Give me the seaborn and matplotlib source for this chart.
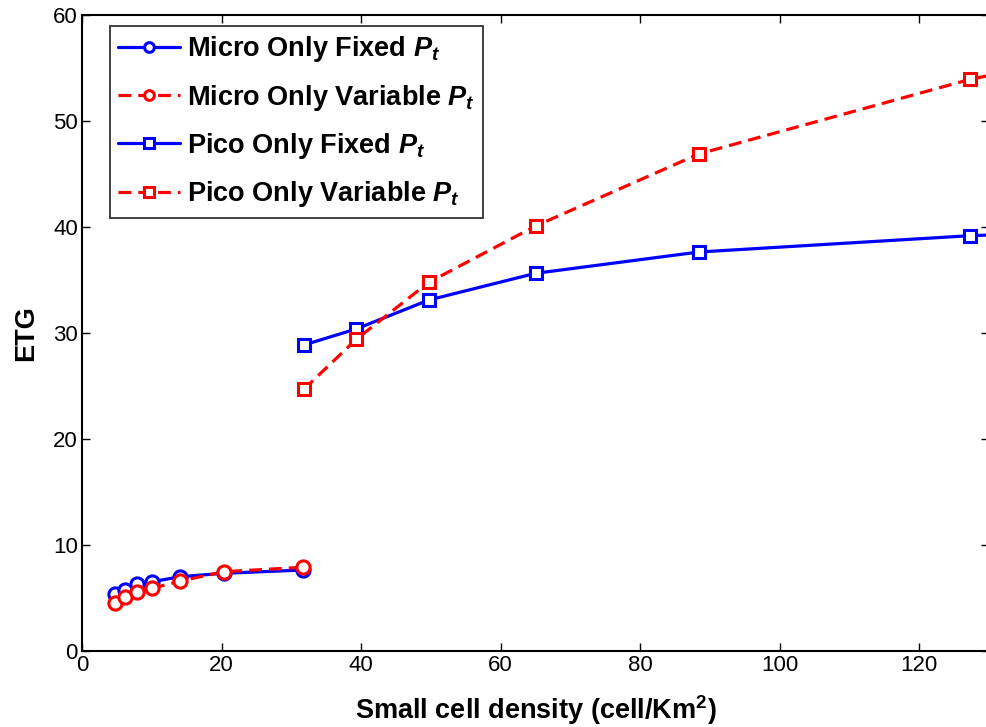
import matplotlib
matplotlib.use("Agg")
import matplotlib.pyplot as plt
import seaborn as sns
import pandas as pd

# ---- data ----
micro_density = [4.8, 6.1, 7.9, 10.1, 14.1, 20.3, 31.7]
micro_fixed = [5.35, 5.75, 6.29, 6.54, 7.01, 7.33, 7.64]
micro_variable = [4.56, 5.07, 5.54, 5.92, 6.60, 7.48, 7.90]

pico_density = [31.8, 39.3, 49.7, 65.0, 88.4, 127.3, 198.9]
pico_fixed = [28.87, 30.38, 33.11, 35.63, 37.64, 39.18, 40.8]
pico_variable = [24.69, 29.40, 34.78, 40.09, 46.89, 53.93, 63.5]

labels = ["Micro Only Fixed $P_t$", "Micro Only Variable $P_t$",
          "Pico Only Fixed $P_t$", "Pico Only Variable $P_t$"]
x_ticks = [0, 20, 40, 60, 80, 100, 120]
y_ticks = [0, 10, 20, 30, 40, 50, 60]

sns.set_theme(style="white")
plt.rcParams["font.family"] = ["Liberation Sans", "DejaVu Sans"]
plt.rcParams["mathtext.fontset"] = "custom"
plt.rcParams["mathtext.it"] = "Liberation Sans:italic:bold"
plt.rcParams["mathtext.rm"] = "Liberation Sans:bold"
plt.rcParams["mathtext.bf"] = "Liberation Sans:bold"
plt.rcParams["text.color"] = "black"
plt.rcParams["axes.labelcolor"] = "black"
plt.rcParams["xtick.color"] = "black"
plt.rcParams["ytick.color"] = "black"

fig = plt.figure(figsize=(9.87, 7.27), dpi=100)
ax = fig.add_axes([82 / 987, 76 / 727, 907 / 987, 636 / 727])

series = [
    (micro_density, micro_fixed, labels[0], "#0000ff", "-", "o", 9.5),
    (micro_density, micro_variable, labels[1], "#ff0000", "--", "o", 9.5),
    (pico_density, pico_fixed, labels[2], "#0000ff", "-", "s", 8),
    (pico_density, pico_variable, labels[3], "#ff0000", "--", "s", 8),
]
for xs, ys, lab, col, ls, mk, ms in series:
    df = pd.DataFrame({"x": xs, "y": ys})
    sns.lineplot(data=df, x="x", y="y", ax=ax, color=col,
                 marker=mk, markersize=ms, markerfacecolor="white",
                 markeredgecolor=col, markeredgewidth=2.2, linewidth=2.3,
                 label=lab, estimator=None, sort=False)
lines = ax.get_lines()
for ln, s in zip(lines, series):
    if s[4] == "--":
        ln.set_linestyle("--")
        ln.set_dashes((4, 2.2))
    else:
        ln.set_linestyle("-")

ax.set_xlim(0, 130)
ax.set_ylim(0, 60)
ax.set_xticks(x_ticks)
ax.set_yticks(y_ticks)
ax.tick_params(direction="in", length=6, width=1, labelsize=16, pad=3,
               top=True, right=True, bottom=True, left=True, colors="black")
for sp in ax.spines.values():
    sp.set_visible(True)
    sp.set_color("black")
    sp.set_linewidth(1.5)

ax.set_xlabel("Small cell density (cell/Km$^{\\mathbf{2}}$)", fontsize=19.5,
              fontweight="bold", labelpad=12)
ax.set_ylabel("ETG", fontsize=19.5, fontweight="bold", labelpad=10)

leg = ax.legend(loc="upper left", bbox_to_anchor=(28 / 907, 1 - 11 / 636),
                prop={"weight": "bold", "size": 19.5},
                frameon=True, fancybox=False, edgecolor="black",
                handlelength=2.3, handletextpad=0.25, borderpad=0.3,
                labelspacing=0.68, borderaxespad=0)
leg.get_frame().set_linewidth(1.3)
for h in leg.get_lines():
    h.set_markersize(7)

fig.savefig("out.png", dpi=100)
